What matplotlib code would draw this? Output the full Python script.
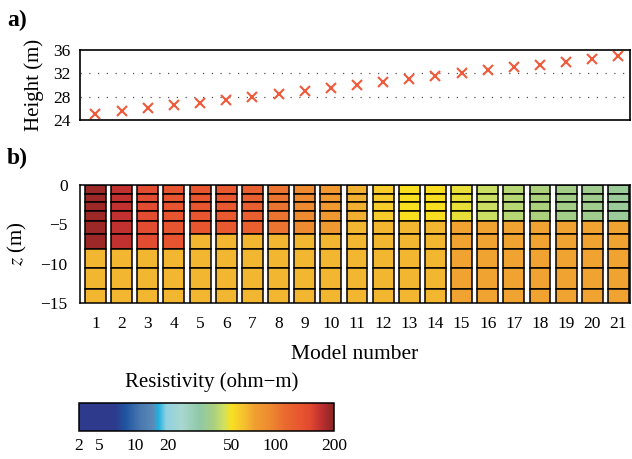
import numpy as np
import matplotlib
matplotlib.use("Agg")
import matplotlib.pyplot as plt
from matplotlib.colors import LinearSegmentedColormap, FuncNorm
from matplotlib.cm import ScalarMappable

plt.rcParams["font.family"] = ["Liberation Serif", "DejaVu Serif"]
plt.rcParams["mathtext.fontset"] = "stix"

# model numbers and sensor heights (panel a)
models = list(range(1, 22))
heights = [25.0, 25.5, 26.0, 26.5, 27.0, 27.5, 28.0, 28.5, 29.0, 29.5, 30.0,
           30.5, 31.0, 31.5, 32.0, 32.5, 33.0, 33.5, 34.0, 34.5, 35.0]

# layer boundaries of the discretised models (panel b), in m
layer_tops = [0.0, -1.1, -2.2, -3.3, -4.6, -6.2, -8.1, -10.5, -13.2]
layer_bottoms = [-1.1, -2.2, -3.3, -4.6, -6.2, -8.1, -10.5, -13.2, -16.0]

# number of sub-layers belonging to the top layer, and resistivities
n_top = [6, 6, 6, 6, 5, 5, 5, 5, 5, 5, 4, 4, 4, 4, 4, 4, 4, 4, 4, 4, 4]
rho_top = [190, 170, 147, 137, 133, 130, 122, 106, 92, 78, 66,
           57, 50, 51, 48, 44, 41, 39, 37, 36, 34]
rho_half = [64, 64, 64, 64, 64, 64, 64, 64, 64, 64, 64,
            64, 64, 64, 71, 71, 71, 71, 71, 71, 71]

# colour scale
cbar_ticks = [2, 5, 10, 20, 50, 100, 200]
cbar_tick_pos = [0.0, 0.08, 0.22, 0.35, 0.60, 0.77, 1.0]
cmap_nodes = [
    (0.00, "#2e3a8c"), (0.14, "#2e3a8c"), (0.18, "#1f55a0"),
    (0.24, "#4a78b0"), (0.29, "#5a8ab8"), (0.31, "#20b0e0"),
    (0.34, "#90d0e0"), (0.40, "#a8d8d0"), (0.47, "#90c8a8"),
    (0.53, "#a8d080"), (0.57, "#d0e060"), (0.60, "#f8e020"),
    (0.65, "#f5c030"), (0.69, "#f0a030"), (0.75, "#ee8a30"),
    (0.81, "#ea6a30"), (0.87, "#e85530"), (0.91, "#e04830"),
    (0.95, "#c03030"), (1.00, "#8b2525"),
]
cmap = LinearSegmentedColormap.from_list("resist", cmap_nodes)

log_ticks = np.log10(cbar_ticks)


def fwd(x):
    return np.interp(np.log10(np.clip(x, 1e-6, None)), log_ticks, cbar_tick_pos)


def inv(u):
    return 10 ** np.interp(u, cbar_tick_pos, log_ticks)


norm = FuncNorm((fwd, inv), vmin=2, vmax=200)

fig = plt.figure(figsize=(6.32, 4.59), dpi=100)
W, H = 632, 459

# panel a
ax1 = fig.add_axes([80 / W, 1 - 120 / H, 550 / W, 70 / H])
ax1.plot(models, heights, "x", color="#ee5a3c", ms=7, mew=1.5)
for yv in (28, 32):
    ax1.axhline(yv, color="#555555", lw=0.9, linestyle=(0, (1, 6)), zorder=0)
ax1.set_xlim(0.41, 21.44)
ax1.set_ylim(24, 36)
ax1.set_yticks([24, 28, 32, 36])
ax1.set_xticks([])
ax1.tick_params(axis="y", length=0, pad=7, labelsize=12.5)
ax1.set_ylabel("Height (m)", fontsize=15, labelpad=6)
for s in ax1.spines.values():
    s.set_linewidth(1.2)

# panel b
ax2 = fig.add_axes([80 / W, 1 - 303 / H, 550 / W, 118 / H])
for i, m in enumerate(models):
    for j in range(len(layer_tops)):
        rho = rho_top[i] if j < n_top[i] else rho_half[i]
        ax2.bar(m, layer_tops[j] - layer_bottoms[j], bottom=layer_bottoms[j],
                width=0.8, color=cmap(norm(rho)), edgecolor="black", linewidth=1.1)
ax2.set_xlim(0.41, 21.44)
ax2.set_ylim(-15, 0)
ax2.set_xticks(models)
ax2.set_yticks([0, -5, -10, -15])
ax2.tick_params(length=0, labelsize=12.5)
ax2.tick_params(axis="x", pad=9)
ax2.tick_params(axis="y", pad=9)
ax2.set_xlabel("Model number", fontsize=15.5, labelpad=10)
ax2.set_ylabel(r"$z$ (m)", fontsize=15, labelpad=8)
for s in ax2.spines.values():
    s.set_linewidth(1.1)

fig.text(7 / W, 1 - 20 / H, "a)", fontsize=17, fontweight="bold", va="center")
fig.text(7 / W, 1 - 158 / H, "b)", fontsize=17, fontweight="bold", va="center")

# colour bar
cax = fig.add_axes([79 / W, 1 - 431 / H, 255 / W, 28 / H])
sm = ScalarMappable(norm=norm, cmap=cmap)
cb = fig.colorbar(sm, cax=cax, orientation="horizontal", ticks=cbar_ticks)
cb.ax.set_xticklabels([str(t) for t in cbar_ticks])
cb.ax.tick_params(length=0, labelsize=12.5, pad=5)
cb.ax.minorticks_off()
cb.outline.set_linewidth(1.1)
fig.text(212 / W, 1 - 382 / H, "Resistivity (ohm\u2212m)", fontsize=15,
         ha="center", va="center")

fig.savefig("out.png", dpi=100)
